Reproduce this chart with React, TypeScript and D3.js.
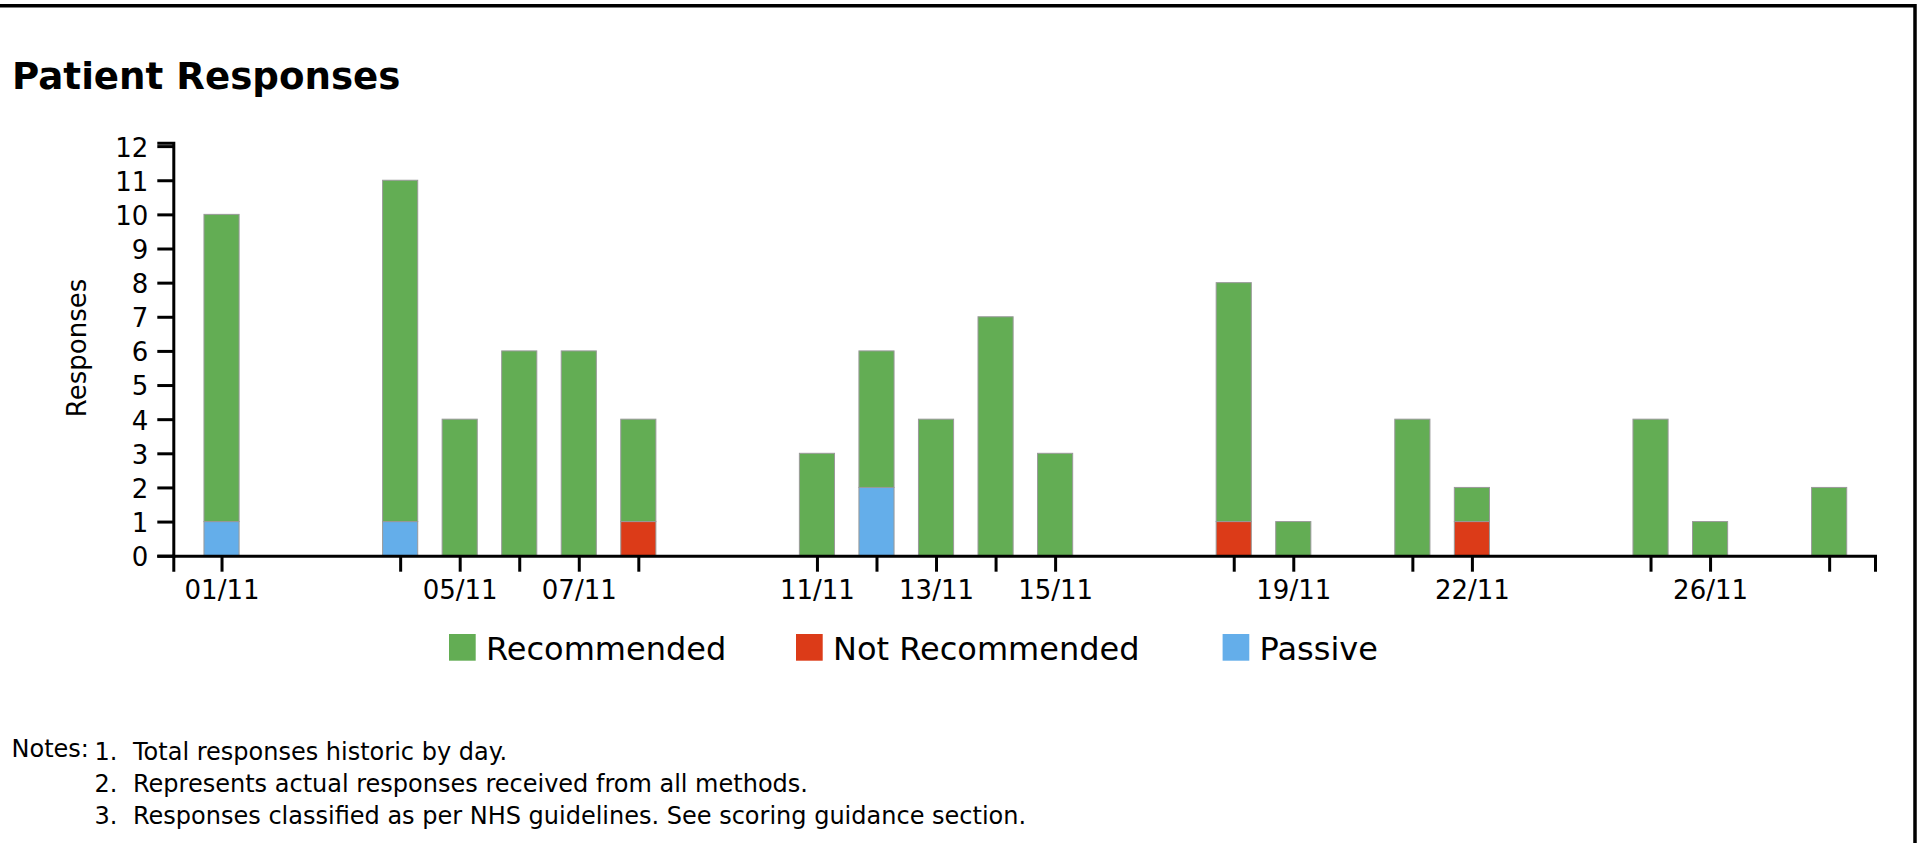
import { useEffect, useRef } from "react";
import * as d3 from "d3";

// days of November with responses
const days = [1, 4, 5, 6, 7, 8, 11, 12, 13, 14, 15, 18, 19, 21, 22, 25, 26, 28];
const recommended = [9, 10, 4, 6, 6, 3, 3, 4, 4, 7, 3, 7, 1, 4, 1, 4, 1, 2];
const notRecommended = [0, 0, 0, 0, 0, 1, 0, 0, 0, 0, 0, 1, 0, 0, 1, 0, 0, 0];
const passive = [1, 1, 0, 0, 0, 0, 0, 2, 0, 0, 0, 0, 0, 0, 0, 0, 0, 0];
const yTicks = [0, 1, 2, 3, 4, 5, 6, 7, 8, 9, 10, 11, 12];

const seriesKeys = ["recommended", "notRecommended", "passive"];
const seriesNames = ["Recommended", "Not Recommended", "Passive"];
const seriesColors = ["#63ad54", "#dc3b18", "#64aeea"];

const notes = [
  "Total responses historic by day.",
  "Represents actual responses received from all methods.",
  "Responses classified as per NHS guidelines. See scoring guidance section.",
];

const W = 1917;
const H = 843;
const FONT = "DejaVu Sans, sans-serif";
const DAY = 86400000;

export default function App() {
  const ref = useRef<SVGSVGElement>(null);

  useEffect(() => {
    const svg = d3.select(ref.current);
    svg.selectAll("*").remove();

    const dates = days.map((d) => new Date(2023, 10, d));
    const rows = dates.map((date, i) => ({
      date,
      recommended: recommended[i],
      notRecommended: notRecommended[i],
      passive: passive[i],
    }));

    const x = d3
      .scaleTime()
      .domain([
        new Date(dates[0].getTime() - 0.81 * DAY),
        new Date(dates[dates.length - 1].getTime() + 0.77 * DAY),
      ])
      .range([173.3, 1875]);
    const y = d3.scaleLinear().domain([0, 12.1]).range([555.7, 142.7]);

    const dayPx = x(new Date(2023, 10, 2)) - x(new Date(2023, 10, 1));
    const barW = dayPx * 0.59;

    // border (top + right)
    svg
      .append("path")
      .attr("d", `M0,5.75H${W - 2}V${H}`)
      .attr("fill", "none")
      .attr("stroke", "#000")
      .attr("stroke-width", 3.5);

    // title
    svg
      .append("text")
      .attr("x", 12)
      .attr("y", 89)
      .attr("font-family", FONT)
      .attr("font-weight", "bold")
      .attr("font-size", 37.2)
      .text("Patient Responses");

    // stacked bars
    const stack = d3
      .stack<any>()
      .keys(["notRecommended", "passive", "recommended"]);
    const layers = stack(rows);

    const g = svg.append("g");
    layers.forEach((layer) => {
      const color = seriesColors[seriesKeys.indexOf(layer.key)];
      g.append("g")
        .selectAll("rect")
        .data(layer.filter((d) => d[1] - d[0] > 0))
        .join("rect")
        .attr("x", (d) => x(d.data.date) - barW / 2)
        .attr("y", (d) => y(d[1]))
        .attr("width", barW)
        .attr("height", (d) => y(d[0]) - y(d[1]))
        .attr("fill", color)
        .attr("stroke", "#999")
        .attr("stroke-width", 1);
    });

    // axes
    const styleAxis = (sel: any) => {
      sel.attr("font-family", FONT).attr("font-size", 26);
      sel.select(".domain").attr("stroke-width", 3);
      sel.selectAll(".tick line").attr("stroke-width", 3);
    };

    const yAxis = svg
      .append("g")
      .attr("transform", "translate(173.3,0)")
      .call(
        d3
          .axisLeft(y)
          .tickValues(yTicks)
          .tickSize(16)
          .tickPadding(9)
          .tickFormat(d3.format("d"))
      );
    styleAxis(yAxis);
    yAxis.selectAll("text").attr("dy", "0.38em");

    const fmt = d3.timeFormat("%d/%m");
    const xAxis = svg
      .append("g")
      .attr("transform", "translate(0,555.7)")
      .call(
        d3
          .axisBottom(x)
          .tickValues(dates)
          .tickSize(16)
          .tickPadding(9)
          .tickFormat((d: any, i: number) => (i % 2 === 0 ? fmt(d) : ""))
      );
    styleAxis(xAxis);

    // y label
    svg
      .append("text")
      .attr("transform", "translate(85.7,348) rotate(-90)")
      .attr("text-anchor", "middle")
      .attr("font-family", FONT)
      .attr("font-size", 26)
      .text("Responses");

    // legend
    const legendX = [449, 796, 1222.6];
    const legend = svg.append("g");
    seriesNames.forEach((name, i) => {
      legend
        .append("rect")
        .attr("x", legendX[i])
        .attr("y", 634)
        .attr("width", 26.7)
        .attr("height", 26.7)
        .attr("fill", seriesColors[i]);
      legend
        .append("text")
        .attr("x", legendX[i] + 37)
        .attr("y", 659.5)
        .attr("font-family", FONT)
        .attr("font-size", 32)
        .text(name);
    });

    // notes
    const ng = svg
      .append("g")
      .attr("font-family", FONT)
      .attr("font-size", 24);
    ng.append("text").attr("x", 11.5).attr("y", 756.5).text("Notes:");
    notes.forEach((n, i) => {
      ng.append("text")
        .attr("x", 94.5)
        .attr("y", 759.5 + i * 32)
        .text(`${i + 1}.`);
      ng.append("text")
        .attr("x", 133)
        .attr("y", 759.5 + i * 32)
        .text(n);
    });
  }, []);

  return (
    <svg
      ref={ref}
      width={W}
      height={H}
      style={{ position: "absolute", left: 0, top: 0, display: "block" }}
    />
  );
}
